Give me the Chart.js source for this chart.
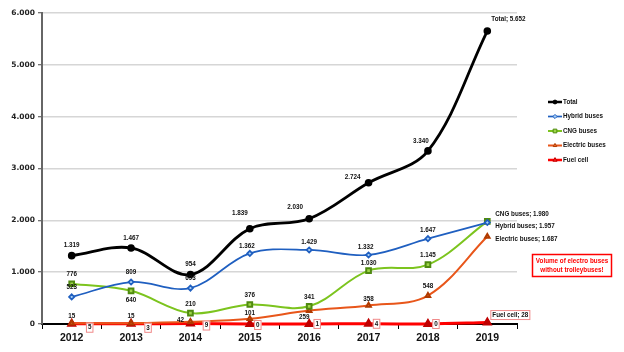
<!DOCTYPE html>
<html>
<head>
<meta charset="utf-8">
<script src="https://cdn.jsdelivr.net/npm/chart.js@4.4.1/dist/chart.umd.min.js"></script>
<style>
  html, body { margin: 0; padding: 0; background: #fff; }
  #wrap { width: 624px; height: 352px; }
</style>
</head>
<body>
<div id="wrap"><canvas id="myChart" width="624" height="352"></canvas></div>
<script>
// chart data
const years = ['2012', '2013', '2014', '2015', '2016', '2017', '2018', '2019'];
const totalBuses = [1319, 1467, 954, 1839, 2030, 2724, 3340, 5652];
const hybridBuses = [523, 809, 693, 1362, 1429, 1332, 1647, 1957];
const cngBuses = [776, 640, 210, 376, 341, 1030, 1145, 1980];
const electricBuses = [15, 15, 42, 101, 259, 358, 548, 1687];
const fuelCell = [5, 3, 9, 0, 1, 4, 0, 28];
const yTicks = [0, 1000, 2000, 3000, 4000, 5000, 6000];
const noteLines = ['Volume of electro buses', 'without trolleybuses!'];

const LABEL_FONT = 'bold 6.3px "Liberation Sans", Arial, sans-serif';

function fmt(v) {
    return String(v).replace(/\B(?=(\d{3})+(?!\d))/g, '.');
}

// where each value label sits relative to its point [dx, dy]
const labelOffsets = {
    0: [[0, -10], [0, -10], [0, -10], [-10, -15], [-14, -12], [-16, -6], [-7, -10]],
    1: [[0, -10], [0, -10], [0, -10], [-3, -7], [0, -8], [-3, -8], [0, -8]],
    2: [[0, -10], [0, 9], [0, -8.5], [0, -9], [0, -9], [0, -7], [0, -9]],
    3: [[0, -7], [0, -7], [-10, -2], [0, -6], [-5, 7], [0, -6], [0, -9]],
    4: [[18, 4], [17, 4], [16, 2], [8, 1], [8, 0], [8, 0], [8, 0]]
};
// last point labels: series name + value, left aligned
const endLabels = {
    0: [4, -12],
    1: [8, 3.5],
    2: [8, -7.5],
    3: [8, 2.5],
    4: [5, -7.5]
};

const valueLabels = {
    id: 'valueLabels',
    afterDatasetsDraw(chart) {
        const ctx = chart.ctx;
        ctx.save();
        ctx.font = LABEL_FONT;
        ctx.textBaseline = 'middle';
        chart.data.datasets.forEach((ds, di) => {
            const meta = chart.getDatasetMeta(di);
            meta.data.forEach((pt, i) => {
                const last = i === ds.data.length - 1;
                let text, dx, dy;
                if (last) {
                    text = ds.label + '; ' + fmt(ds.data[i]);
                    [dx, dy] = endLabels[di];
                    ctx.textAlign = 'left';
                } else {
                    text = fmt(ds.data[i]);
                    [dx, dy] = labelOffsets[di][i];
                    ctx.textAlign = 'center';
                }
                const x = pt.x + dx;
                const y = pt.y + dy;
                if (di === 4) {
                    // fuel cell labels sit in pink boxes
                    const w = ctx.measureText(text).width + 4;
                    const h = 10;
                    const bx = last ? x - 2 : x - w / 2;
                    ctx.fillStyle = '#fff';
                    ctx.fillRect(bx, y - h / 2, w, h);
                    ctx.strokeStyle = '#f08a8a';
                    ctx.lineWidth = 1;
                    ctx.strokeRect(bx + 0.5, y - h / 2 + 0.5, w - 1, h - 1);
                }
                ctx.fillStyle = '#111';
                ctx.fillText(text, x, y);
            });
        });
        ctx.restore();
    }
};

// legend drawn by hand to get line + marker swatches
const sideLegend = {
    id: 'sideLegend',
    afterDraw(chart) {
        const ctx = chart.ctx;
        ctx.save();
        ctx.font = LABEL_FONT;
        ctx.textBaseline = 'middle';
        ctx.textAlign = 'left';
        chart.data.datasets.forEach((ds, di) => {
            const y = 102 + di * 14.5;
            ctx.strokeStyle = ds.borderColor;
            ctx.lineWidth = Math.min(ds.borderWidth, 2.5);
            ctx.beginPath();
            ctx.moveTo(548, y);
            ctx.lineTo(562, y);
            ctx.stroke();
            ctx.fillStyle = ds.pointBackgroundColor;
            ctx.strokeStyle = ds.pointBorderColor;
            ctx.lineWidth = 1;
            Chart.helpers.drawPoint(ctx, {
                pointStyle: ds.pointStyle,
                radius: ds.pointRadius * 0.8,
                borderWidth: 1
            }, 555, y);
            ctx.fillStyle = '#111';
            ctx.fillText(ds.label, 563, y);
        });

        // red note box
        ctx.fillStyle = '#fff';
        ctx.fillRect(532, 254, 80, 23);
        ctx.strokeStyle = '#ff0000';
        ctx.lineWidth = 1.5;
        ctx.strokeRect(532.5, 254.5, 79, 22);
        ctx.fillStyle = '#ff0000';
        ctx.textAlign = 'center';
        ctx.fillText(noteLines[0], 572, 261.5);
        ctx.fillText(noteLines[1], 572, 270.5);
        ctx.restore();
    }
};

const ctx = document.getElementById('myChart').getContext('2d');
new Chart(ctx, {
    type: 'line',
    data: {
        labels: years,
        datasets: [
            {
                label: 'Total',
                data: totalBuses,
                borderColor: '#000',
                borderWidth: 2.8,
                pointStyle: 'circle',
                pointRadius: 2.4,
                pointBackgroundColor: '#000',
                pointBorderColor: '#000'
            },
            {
                label: 'Hybrid buses',
                data: hybridBuses,
                borderColor: '#1f5fc0',
                borderWidth: 1.7,
                pointStyle: 'rectRot',
                pointRadius: 2.6,
                pointBackgroundColor: '#a9d0f5',
                pointBorderColor: '#1f5fc0'
            },
            {
                label: 'CNG buses',
                data: cngBuses,
                borderColor: '#7cc41e',
                borderWidth: 2,
                pointStyle: 'rect',
                pointRadius: 3.3,
                pointBackgroundColor: '#9fd54a',
                pointBorderColor: '#4f8a10'
            },
            {
                label: 'Electric buses',
                data: electricBuses,
                borderColor: '#e8561a',
                borderWidth: 2,
                pointStyle: 'triangle',
                pointRadius: 2.6,
                pointBackgroundColor: '#f07a3a',
                pointBorderColor: '#b03a00'
            },
            {
                label: 'Fuel cell',
                data: fuelCell,
                borderColor: '#ff0000',
                borderWidth: 3,
                pointStyle: 'triangle',
                pointRadius: 3,
                pointBackgroundColor: '#ff2020',
                pointBorderColor: '#c00000'
            }
        ]
    },
    options: {
        responsive: false,
        animation: false,
        clip: false,
        layout: {
            padding: { left: 0, right: 107, top: 13, bottom: 0 }
        },
        elements: {
            line: { tension: 0.35, fill: false },
            point: { borderWidth: 1 }
        },
        scales: {
            x: {
                offset: true,
                afterFit: s => { s.height = 28; },
                border: { color: '#000', width: 2 },
                grid: {
                    offset: true,
                    drawOnChartArea: false,
                    drawTicks: true,
                    tickLength: 5,
                    color: '#000',
                    lineWidth: 1
                },
                ticks: {
                    color: '#111',
                    padding: 3,
                    font: { family: '"Liberation Sans", Arial, sans-serif', weight: 'bold', size: 10.5 }
                }
            },
            y: {
                min: yTicks[0],
                max: yTicks[yTicks.length - 1],
                afterFit: s => { s.width = 42; },
                afterBuildTicks: s => { s.ticks = yTicks.map(v => ({ value: v })); },
                border: { color: '#666', width: 2 },
                grid: {
                    color: '#d6d6d6',
                    lineWidth: 1.5,
                    tickColor: '#444',
                    tickLength: 4,
                    tickWidth: 1
                },
                ticks: {
                    color: '#222',
                    padding: 3,
                    font: { family: '"DejaVu Sans", sans-serif', weight: 'bold', size: 7.5 },
                    callback: v => fmt(v)
                }
            }
        },
        plugins: {
            legend: { display: false },
            tooltip: { enabled: false },
            title: { display: false }
        }
    },
    plugins: [valueLabels, sideLegend]
});
</script>
</body>
</html>
